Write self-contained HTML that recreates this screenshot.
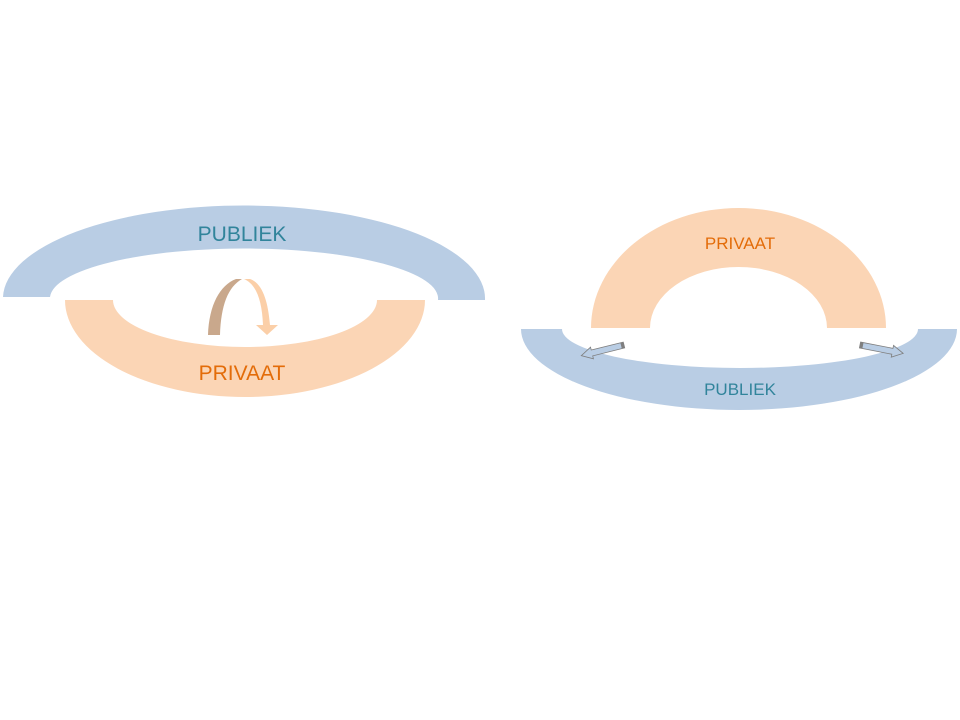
<!DOCTYPE html>
<html><head><meta charset="utf-8"><style>html,body{margin:0;padding:0;background:#fff;}svg{display:block}</style></head>
<body>
<svg width="960" height="720" viewBox="0 0 960 720" xmlns="http://www.w3.org/2000/svg" font-family="Liberation Sans, sans-serif">
<!-- Left PUBLIEK -->
<path d="M3,297 A241,93 0 0 1 485,300 L438,300 A194,50 0 0 0 50,297 Z" fill="#B9CDE4"/>
<!-- Left PRIVAAT -->
<path d="M65,300 L113,300 A132,47 0 0 0 377,300 L425,300 A180,97 0 0 1 65,300 Z" fill="#FBD5B5"/>
<text x="242" y="241" font-size="21" fill="#31849B" text-anchor="middle">PUBLIEK</text>
<text x="242" y="380" font-size="21" fill="#E36C09" text-anchor="middle">PRIVAAT</text>
<!-- curved arrow -->
<path d="M208,335 L220,335 C221,305 228,287 242,279 L236,279 C220,285 209,305 208,335 Z" fill="#C9A88C"/>
<path d="M244,279 C256,284 262,300 263,325 L256,325 L267,335 L278,325 L270,325 C268,300 262,283 250,279 Z" fill="#FBCFA8"/>
<!-- Right PRIVAAT arch -->
<path d="M591,328 A147.5,120 0 0 1 886,328 L827,328 A88.5,61 0 0 0 650,328 Z" fill="#FBD5B5"/>
<!-- Right PUBLIEK -->
<path d="M521,329 L562,329 A178,39 0 0 0 918,329 L957,329 A218,81 0 0 1 521,329 Z" fill="#B9CDE4"/>
<text x="740" y="249" font-size="17" fill="#E36C09" text-anchor="middle">PRIVAAT</text>
<text x="740" y="395" font-size="17" fill="#31849B" text-anchor="middle">PUBLIEK</text>
<!-- small arrows -->
<g transform="translate(624,345) rotate(166)">
<path d="M0,-3 L33,-3 L33,-6 L44,0 L33,6 L33,3 L0,3 Z" fill="#B9CDE4" stroke="#7F7F7F" stroke-width="0.8"/>
<rect x="0" y="-3" width="3" height="6" fill="#7F7F7F"/>
</g>
<g transform="translate(860,345) rotate(11)">
<path d="M0,-3 L33,-3 L33,-6 L44,0 L33,6 L33,3 L0,3 Z" fill="#B9CDE4" stroke="#7F7F7F" stroke-width="0.8"/>
<rect x="0" y="-3" width="3" height="6" fill="#7F7F7F"/>
</g>
</svg>
</body></html>
